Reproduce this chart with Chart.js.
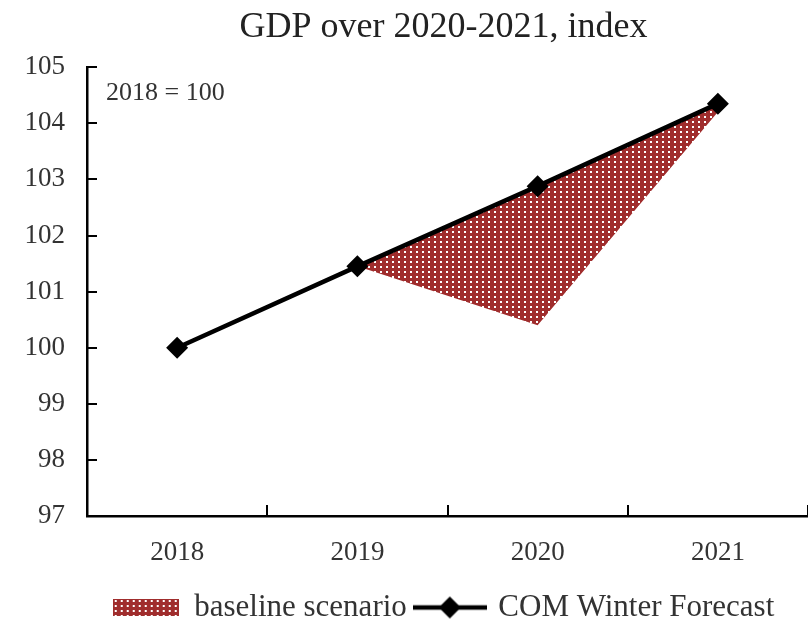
<!DOCTYPE html>
<html>
<head>
<meta charset="utf-8">
<script src="https://cdn.jsdelivr.net/npm/chart.js@4"></script>
<style>
  html, body { margin: 0; padding: 0; background: #fff; overflow: hidden; }
  #wrap { position: relative; width: 808px; height: 628px; }
</style>
</head>
<body>
<div id="wrap"><canvas id="gdpChart"></canvas></div>
<script>
const years = ['2018', '2019', '2020', '2021'];
const forecast = [100, 101.45, 102.88, 104.35];
const baseline = [null, 101.45, 100.4, 104.2];
const yTicks = [97, 98, 99, 100, 101, 102, 103, 104, 105];

const serif = '"Liberation Serif", "Times New Roman", serif';
const red = '#a02d2d';

// dotted red fill
function makePattern() {
    const c = document.createElement('canvas');
    c.width = 6; c.height = 5;
    const g = c.getContext('2d');
    g.fillStyle = red;
    g.fillRect(0, 0, 6, 5);
    g.fillStyle = '#fff';
    g.fillRect(2, 1, 2, 2);
    return g.createPattern(c, 'repeat');
}
const pattern = makePattern();

function boxIcon() {
    const c = document.createElement('canvas');
    c.width = 66; c.height = 17;
    const g = c.getContext('2d');
    g.fillStyle = pattern;
    g.fillRect(0, 0, 66, 17);
    return c;
}
function lineIcon() {
    const c = document.createElement('canvas');
    c.width = 74; c.height = 24;
    const g = c.getContext('2d');
    g.strokeStyle = '#000';
    g.lineWidth = 4.5;
    g.beginPath(); g.moveTo(0, 12); g.lineTo(74, 12); g.stroke();
    g.fillStyle = '#000';
    g.beginPath();
    g.moveTo(37, 1); g.lineTo(48, 12); g.lineTo(37, 23); g.lineTo(26, 12);
    g.closePath(); g.fill();
    return c;
}
const icons = [boxIcon(), lineIcon()];

// centre title and legend over the plot area, not the whole canvas
const centreBlocks = {
    id: 'centreBlocks',
    afterLayout(chart) {
        const a = chart.chartArea;
        const mid = (a.left + a.right) / 2 - 4;
        [chart.titleBlock, chart.legend].forEach(b => {
            if (!b) return;
            const shift = mid - (b.left + b.right) / 2;
            b.left += shift; b.right += shift;
        });
    }
};

const extras = {
    id: 'extras',
    afterDraw(chart) {
        const ctx = chart.ctx;
        const a = chart.chartArea;
        const x = chart.scales.x, y = chart.scales.y;
        ctx.save();
        ctx.strokeStyle = '#000';
        ctx.lineWidth = 2;
        ctx.beginPath();
        y.ticks.forEach((t, i) => {
            const py = Math.round(y.getPixelForTick(i));
            ctx.moveTo(a.left, py); ctx.lineTo(a.left + 10, py);
        });
        const n = x.ticks.length;
        for (let i = 0; i <= n; i++) {
            const px = Math.round(a.left + (a.right - a.left) * i / n);
            ctx.moveTo(px, a.bottom); ctx.lineTo(px, a.bottom - 11);
        }
        ctx.stroke();
        ctx.fillStyle = '#333';
        ctx.font = '26px ' + serif;
        ctx.textBaseline = 'middle';
        ctx.fillText('2018 = 100', a.left + 19, a.top + 26);
        ctx.restore();
    }
};

new Chart(document.getElementById('gdpChart'), {
    type: 'line',
    data: {
        labels: years,
        datasets: [{
            label: 'baseline scenario',
            data: baseline,
            fill: '+1',
            backgroundColor: pattern,
            borderWidth: 0,
            pointRadius: 0
        }, {
            label: 'COM Winter Forecast',
            data: forecast,
            fill: false,
            borderColor: '#000',
            borderWidth: 4.5,
            pointStyle: 'rectRot',
            pointRadius: 11,
            pointBackgroundColor: '#000',
            pointBorderColor: '#000',
            pointBorderWidth: 0
        }]
    },
    plugins: [centreBlocks, extras],
    options: {
        responsive: true,
        maintainAspectRatio: false,
        animation: false,
        layout: { autoPadding: false, padding: { left: 0, right: 0, top: 0, bottom: -5 } },
        scales: {
            x: {
                offset: true,
                grid: { display: false, offset: true },
                border: { color: '#000', width: 2.5 },
                afterFit: (s) => { s.height = 66; s.paddingLeft = 0; s.paddingRight = 0; },
                ticks: { color: '#333', padding: 13, font: { family: serif, size: 27 } }
            },
            y: {
                min: 97,
                max: 105,
                afterBuildTicks: (s) => { s.ticks = yTicks.map(v => ({ value: v })); },
                afterFit: (s) => { s.width = 87; },
                grid: { display: false, drawTicks: false },
                border: { color: '#000', width: 2.5 },
                ticks: { color: '#333', padding: 22, font: { family: serif, size: 27 } }
            }
        },
        plugins: {
            filler: { drawTime: 'beforeDatasetsDraw' },
            title: {
                display: true,
                text: 'GDP over 2020-2021, index',
                color: '#222',
                font: { family: serif, size: 36, weight: 'normal' },
                padding: { top: 6, bottom: 18 }
            },
            legend: {
                position: 'bottom',
                labels: {
                    usePointStyle: true,
                    pointStyleWidth: 66,
                    color: '#333',
                    padding: 10,
                    font: { family: serif, size: 31 },
                    generateLabels: (chart) => {
                        const items = Chart.defaults.plugins.legend.labels.generateLabels(chart);
                        items.forEach((it, i) => { it.pointStyle = icons[i]; });
                        return items;
                    }
                }
            },
            tooltip: { enabled: false }
        }
    }
});
</script>
</body>
</html>
